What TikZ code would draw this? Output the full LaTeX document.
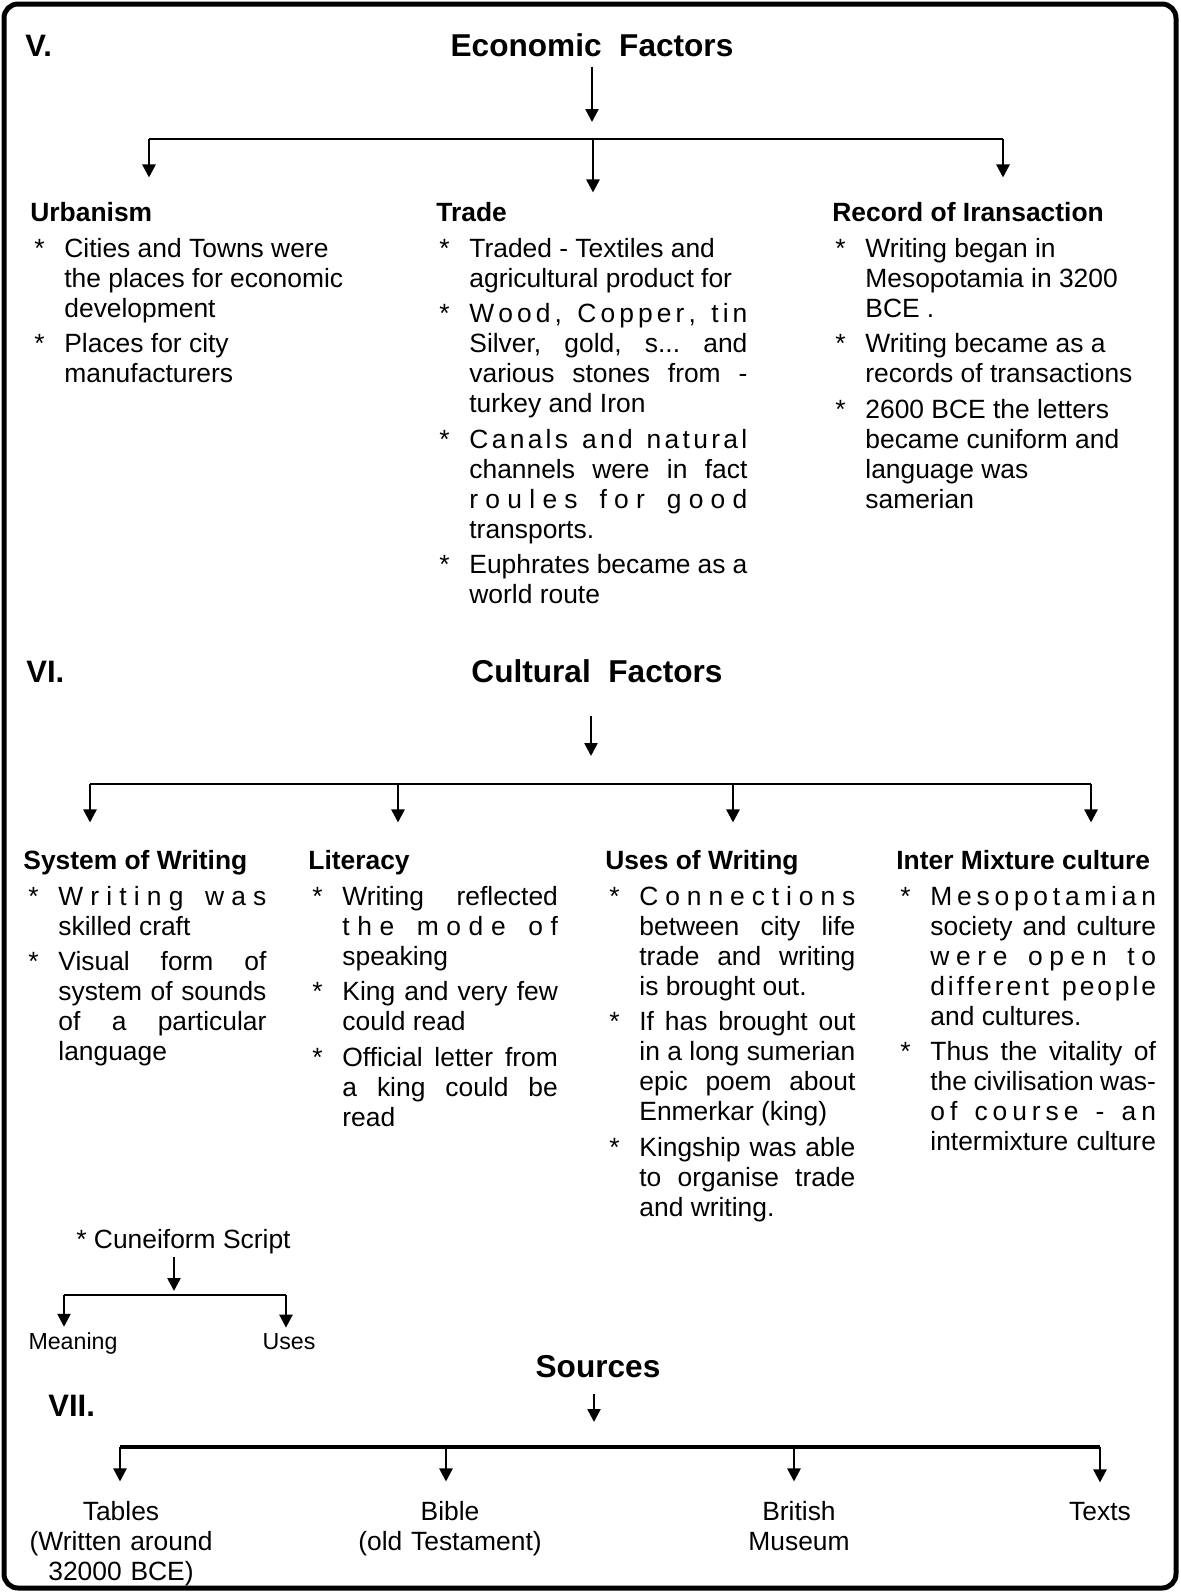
\documentclass[tikz,border=0pt]{standalone}
\usepackage{fontspec}
\setmainfont{Liberation Sans}
\usetikzlibrary{arrows.meta,positioning}
\frenchspacing

\newcommand\itm[1]{\setlength{\parskip}{2.75pt}\hangindent=15pt\hangafter=1\noindent\makebox[15pt][l]{*}#1\par}
\newcommand\jst[1]{\makebox[\dimexpr\hsize-15pt\relax][s]{#1}}
\ExplSyntaxOn
\NewDocumentCommand \spreadit { m }
  {
    \makebox [ \dimexpr \hsize - 15pt \relax ] [s]
      {
        \str_map_inline:nn { #1 }
          { \str_if_eq:nnTF { ##1 } { ~ } { \c_space_tl \hfill } { ##1 \hfill } }
        \unskip
      }
  }
\ExplSyntaxOff

\begin{document}
\begin{tikzpicture}[x=0.5pt,y=-0.5pt,
    title/.style={font=\bfseries\fontsize{15.8pt}{18pt}\selectfont, inner sep=0pt, anchor=base},
    num/.style={font=\bfseries\fontsize{15.5pt}{18pt}\selectfont, inner sep=0pt, anchor=base west},
    sub/.style={font=\bfseries\fontsize{13.2pt}{15pt}\selectfont, inner sep=0pt, anchor=base west},
    body/.style={font=\fontsize{13.2pt}{15pt}\selectfont, inner sep=0pt, anchor=base west, align=justify},
    plain/.style={font=\fontsize{13.2pt}{15pt}\selectfont, inner sep=0pt, anchor=base west},
    small/.style={font=\fontsize{11.6pt}{14pt}\selectfont, inner sep=0pt, anchor=base},
    leaf/.style={font=\fontsize{13.2pt}{15pt}\selectfont, inner sep=0pt, anchor=base, text width=100pt, align=center},
    arr/.style={line width=1.25pt, -{Triangle[length=6.5pt,width=6.5pt]}},
    bar/.style={line width=1.25pt}]
  \useasboundingbox (0,0) rectangle (1180,1592);
  \draw[line width=2.5pt, rounded corners=7pt] (4,4) rectangle (1176,1588);

  % V. Economic Factors
  \node[num] (n5) at (25,56) {V.};
  \node[title] (eco) at (592,56) {Economic~~Factors};
  \coordinate (eL) at (149,139);
  \coordinate (eM) at (593,139);
  \coordinate (eR) at (1003,139);
  \draw[arr, shorten <=5pt, shorten >=8.5pt] (eco.south) -- (eco.south |- eM);
  \draw[bar] (eL) -- (eR);
  \node[sub] (urb) at (30,221) {Urbanism};
  \node[sub] (trd) at (436,221) {Trade};
  \node[sub] (rec) at (832,221) {Record of Iransaction};
  \draw[arr, shorten >=12pt] (eL) -- (eL |- urb.north);
  \draw[arr, shorten >=4.5pt] (eM) -- (eM |- trd.north);
  \draw[arr, shorten >=12pt] (eR) -- (eR |- rec.north);
  \node[body, text width=165pt] (urbB) at (34,257) {%
    \itm{Cities and Towns were\newline the places for economic\newline development}%
    \itm{Places for city\newline manufacturers}};
  \node[body, text width=154pt] (trdB) at (439,257) {%
    \itm{Traded - Textiles and\newline agricultural product for}%
    \itm{\spreadit{Wood, Copper, tin}\newline \jst{Silver, gold, s... and}\newline \jst{various stones from -}\newline turkey and Iron}%
    \itm{\spreadit{Canals and natural}\newline \jst{channels were in fact}\newline \spreadit{roules for good}\newline transports.}%
    \itm{\jst{Euphrates became as a}\newline world route}};
  \node[body, text width=165pt] (recB) at (835,257) {%
    \itm{Writing began in\newline Mesopotamia in 3200\newline BCE .}%
    \itm{Writing became as a\newline records of transactions}%
    \itm{2600 BCE the letters\newline became cuniform and\newline language was\newline samerian}};

  % VI. Cultural Factors
  \node[num] (n6) at (26,682) {VI.};
  \node[title] (cul) at (597,682) {Cultural~~Factors};
  \coordinate (cL) at (90,784);
  \coordinate (c2) at (398,784);
  \coordinate (cM) at (591,784);
  \coordinate (c3) at (733,784);
  \coordinate (cR) at (1091,784);
  \draw[arr, shorten <=16.5pt, shorten >=14pt] (cul.south -| cM) -- (cM);
  \draw[bar] (cL) -- (cR);
  \node[sub] (sys) at (23,869) {System of Writing};
  \node[sub] (lit) at (308,869) {Literacy};
  \node[sub] (use) at (605,869) {Uses of Writing};
  \node[sub] (int) at (896,869) {Inter Mixture culture};
  \draw[arr, shorten >=13.5pt] (cL) -- (cL |- sys.north);
  \draw[arr, shorten >=13.5pt] (c2) -- (c2 |- lit.north);
  \draw[arr, shorten >=13.5pt] (c3) -- (c3 |- use.north);
  \draw[arr, shorten >=13.5pt] (cR) -- (cR |- int.north);
  \node[body, text width=119pt] (sysB) at (28,905) {%
    \itm{\spreadit{Writing was}\newline skilled craft}%
    \itm{\jst{Visual form of}\newline \jst{system of sounds}\newline \jst{of a particular}\newline language}};
  \node[body, text width=122.75pt] (litB) at (312,905) {%
    \itm{\jst{Writing reflected}\newline \spreadit{the mode of}\newline speaking}%
    \itm{\jst{King and very few}\newline could read}%
    \itm{\jst{Official letter from}\newline \jst{a king could be}\newline read}};
  \node[body, text width=123pt] (useB) at (609,905) {%
    \itm{\spreadit{Connections}\newline \jst{between city life}\newline \jst{trade and writing}\newline is brought out.}%
    \itm{\jst{If has brought out}\newline \jst{in a long sumerian}\newline \jst{epic poem about}\newline Enmerkar (king)}%
    \itm{\jst{Kingship was able}\newline \jst{to organise trade}\newline and writing.}};
  \node[body, text width=127.8pt] (intB) at (900,905) {%
    \itm{\spreadit{Mesopotamian}\newline \jst{society and culture}\newline \spreadit{were open to}\newline \spreadit{different people}\newline and cultures.}%
    \itm{\jst{Thus the vitality of}\newline \jst{the civilisation was-}\newline \spreadit{of course - an}\newline \jst{intermixture culture}}};

  % Cuneiform script
  \node[plain] (cun) at (76,1248) {* Cuneiform Script};
  \coordinate (kL) at (64,1295);
  \coordinate (kM) at (174,1295);
  \coordinate (kR) at (286,1295);
  \draw[arr, shorten <=1.7pt, shorten >=2pt] (cun.south -| kM) -- (kM);
  \draw[bar] (kL) -- (kR);
  \node[small] (mng) at (73,1349) {Meaning};
  \node[small] (uss) at (289,1349) {Uses};
  \draw[arr, shorten >=2.5pt] (kL) -- (kL |- mng.north);
  \draw[arr, shorten >=2.5pt] (kR) -- (kR |- uss.north);

  % VII. Sources
  \node[title] (src) at (598,1377) {Sources};
  \node[num] (n7) at (48,1416) {VII.};
  \coordinate (sL) at (120,1447);
  \coordinate (s2) at (446,1447);
  \coordinate (sM) at (594,1447);
  \coordinate (s3) at (794,1447);
  \coordinate (sR) at (1100,1447);
  \draw[arr, shorten <=8pt, shorten >=12.5pt] (src.south -| sM) -- (sM);
  \draw[line width=1.7pt] (sL) -- (sR);
  \node[leaf] (tab) at (121,1520) {Tables\\(Written around\\32000 BCE)};
  \node[leaf] (bib) at (450,1520) {Bible\\(old Testament)};
  \node[leaf] (brm) at (799,1520) {British\\Museum};
  \node[leaf] (txt) at (1100,1520) {Texts};
  \draw[arr, shorten >=9.5pt] (sL) -- (sL |- tab.north);
  \draw[arr, shorten >=9.5pt] (s2) -- (s2 |- bib.north);
  \draw[arr, shorten >=9.5pt] (s3) -- (s3 |- brm.north);
  \draw[arr, shorten >=9.5pt] (sR) -- (sR |- txt.north);
\end{tikzpicture}
\end{document}
